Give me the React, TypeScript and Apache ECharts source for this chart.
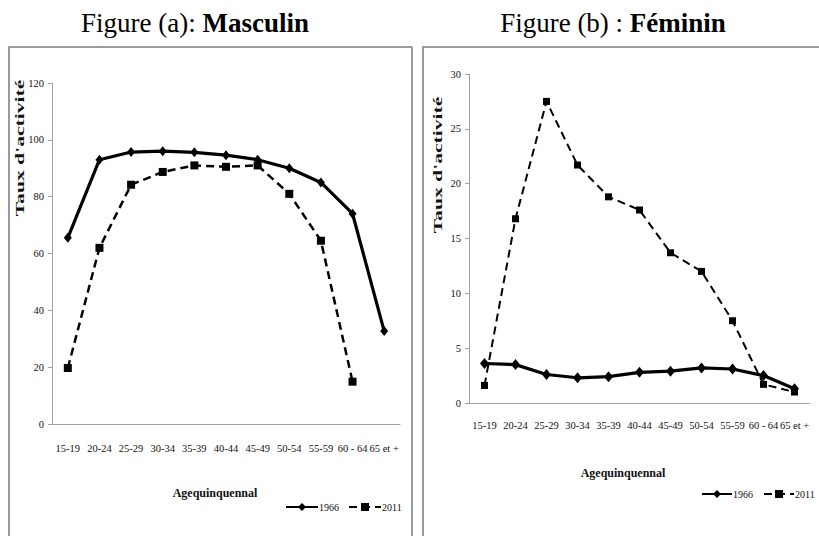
import React, { useEffect, useRef } from "react";
import * as echarts from "echarts";

const categories = ["15-19", "20-24", "25-29", "30-34", "35-39", "40-44", "45-49", "50-54", "55-59", "60 - 64", "65 et +"];
const masc1966 = [65.5, 93, 95.7, 96, 95.6, 94.6, 93, 90, 85, 74, 32.7];
const masc2011: (number | null)[] = [19.7, 62, 84.2, 88.7, 91, 90.5, 91, 81, 64.5, 14.9, null];
const fem1966 = [3.6, 3.5, 2.6, 2.3, 2.4, 2.8, 2.9, 3.2, 3.1, 2.5, 1.3];
const fem2011 = [1.6, 16.8, 27.5, 21.7, 18.8, 17.6, 13.7, 12, 7.5, 1.7, 1.0];
const seriesNames = ["1966", "2011"];
const titleA = ["Figure (a): ", "Masculin"];
const titleB = ["Figure (b) : ", "Féminin"];
const yName = "Taux d'activité";
const xName = "Agequinquennal";

const serif = "Liberation Serif";
const dash = [8, 5];
const diamond = "path://M0,-5 L4,0 L0,5 L-4,0 Z";

export default function App() {
  const ref = useRef<HTMLDivElement>(null);
  useEffect(() => {
    document.body.style.margin = "0";
    const chart = echarts.init(ref.current!, null, { renderer: "svg" });
    const axisLine = { lineStyle: { color: "#a0a0a0", width: 1 } };
    const axisTick = { lineStyle: { color: "#a0a0a0" }, length: 4 };
    const axisLabel = { color: "#111", fontFamily: serif, fontSize: 10.5 };
    const xAxisCommon = {
      type: "category",
      data: categories,
      axisLine,
      axisTick: { ...axisTick, interval: 0 },
      splitLine: { show: false },
    };
    const yAxisCommon = {
      type: "value",
      axisLine: { show: true, ...axisLine },
      axisTick: { show: true, ...axisTick },
      axisLabel: { ...axisLabel, margin: 8 },
      splitLine: { show: false },
    };
    const legendText = { fontFamily: serif, fontSize: 10, color: "#111", padding: [0, 0, 0, -4] };
    chart.setOption({
      animation: false,
      backgroundColor: "#fff",
      grid: [
        { left: 52, right: 419, top: 83, bottom: 112 },
        { left: 469, right: 9, top: 74, bottom: 133 },
      ],
      xAxis: [
        { ...xAxisCommon, gridIndex: 0, axisLabel: { ...axisLabel, interval: 0, margin: 19 } },
        { ...xAxisCommon, gridIndex: 1, axisLabel: { ...axisLabel, interval: 0, margin: 17 } },
      ],
      yAxis: [
        { ...yAxisCommon, gridIndex: 0, min: 0, max: 120, interval: 20 },
        { ...yAxisCommon, gridIndex: 1, min: 0, max: 30, interval: 5 },
      ],
      legend: [
        {
          left: 285, top: 502, width: 200, itemWidth: 32, itemHeight: 10, itemGap: 9, padding: 0,
          data: seriesNames,
          textStyle: legendText,
        },
        {
          left: 701, top: 489, width: 200, itemWidth: 30, itemHeight: 10, itemGap: 10, padding: 0,
          data: seriesNames,
          textStyle: legendText,
        },
      ],
      series: [
        {
          name: seriesNames[0], type: "line", xAxisIndex: 0, yAxisIndex: 0, data: masc1966,
          symbol: diamond, symbolSize: [8, 10], showAllSymbol: true,
          lineStyle: { color: "#000", width: 3.2 }, itemStyle: { color: "#000" },
        },
        {
          name: seriesNames[1], type: "line", xAxisIndex: 0, yAxisIndex: 0, data: masc2011,
          symbol: "rect", symbolSize: 8, showAllSymbol: true, connectNulls: false,
          lineStyle: { color: "#000", width: 2.5, type: dash }, itemStyle: { color: "#000" },
        },
        {
          name: seriesNames[0], type: "line", xAxisIndex: 1, yAxisIndex: 1, data: fem1966,
          symbol: diamond, symbolSize: [9, 11], showAllSymbol: true,
          lineStyle: { color: "#000", width: 3.2 }, itemStyle: { color: "#000" },
        },
        {
          name: seriesNames[1], type: "line", xAxisIndex: 1, yAxisIndex: 1, data: fem2011,
          symbol: "rect", symbolSize: 7, showAllSymbol: true,
          lineStyle: { color: "#000", width: 2, type: dash }, itemStyle: { color: "#000" },
        },
      ],
      graphic: [
        // panel borders
        { type: "line", shape: { x1: 8, y1: 47, x2: 412, y2: 47 }, style: { stroke: "#9a9a9a", lineWidth: 2 } },
        { type: "line", shape: { x1: 9, y1: 47, x2: 9, y2: 536 }, style: { stroke: "#9a9a9a", lineWidth: 2 } },
        { type: "line", shape: { x1: 412, y1: 47, x2: 412, y2: 536 }, style: { stroke: "#9a9a9a", lineWidth: 2 } },
        { type: "line", shape: { x1: 422, y1: 47, x2: 819, y2: 47 }, style: { stroke: "#9a9a9a", lineWidth: 2 } },
        { type: "line", shape: { x1: 423, y1: 47, x2: 423, y2: 536 }, style: { stroke: "#9a9a9a", lineWidth: 2 } },
        // titles
        {
          type: "text", x: 195, y: 23,
          style: {
            text: `{n|${titleA[0]}}{b|${titleA[1]}}`, align: "center", verticalAlign: "middle",
            rich: {
              n: { fontFamily: serif, fontSize: 27, fill: "#000" },
              b: { fontFamily: serif, fontSize: 27, fontWeight: "bold", fill: "#000" },
            },
          },
        },
        {
          type: "text", x: 613, y: 23,
          style: {
            text: `{n|${titleB[0]}}{b|${titleB[1]}}`, align: "center", verticalAlign: "middle",
            rich: {
              n: { fontFamily: serif, fontSize: 27, fill: "#000" },
              b: { fontFamily: serif, fontSize: 27, fontWeight: "bold", fill: "#000" },
            },
          },
        },
        // y axis names
        {
          type: "text", x: 20, y: 148, rotation: Math.PI / 2, scaleX: 1.8,
          style: { text: yName, align: "center", verticalAlign: "middle", fontFamily: serif, fontSize: 12, fontWeight: "bold", fill: "#111" },
        },
        {
          type: "text", x: 438, y: 165, rotation: Math.PI / 2, scaleX: 1.8,
          style: { text: yName, align: "center", verticalAlign: "middle", fontFamily: serif, fontSize: 12, fontWeight: "bold", fill: "#111" },
        },
        // x axis names
        {
          type: "text", x: 215, y: 493,
          style: { text: xName, align: "center", verticalAlign: "middle", fontFamily: serif, fontSize: 12, fontWeight: "bold", fill: "#111" },
        },
        {
          type: "text", x: 623, y: 473,
          style: { text: xName, align: "center", verticalAlign: "middle", fontFamily: serif, fontSize: 12, fontWeight: "bold", fill: "#111" },
        },
      ],
    });
    return () => chart.dispose();
  }, []);
  return <div ref={ref} style={{ width: 819, height: 536 }} />;
}
